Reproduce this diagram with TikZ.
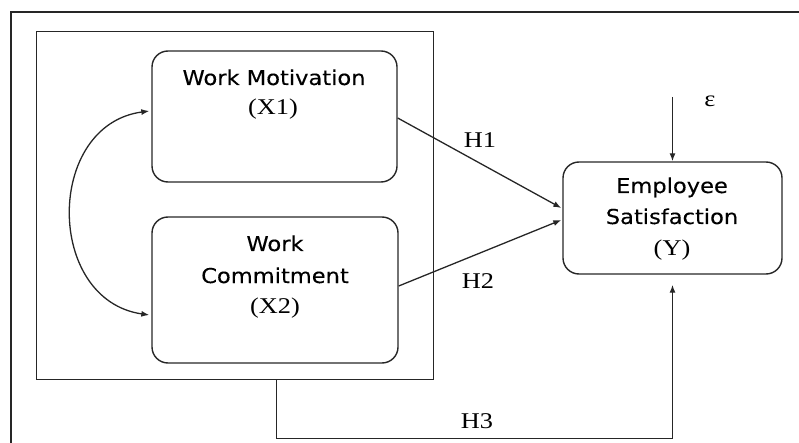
\documentclass[tikz,border=0pt]{standalone}
\usepackage{fontspec}
\usetikzlibrary{arrows.meta}
\newfontfamily\boxsans[FakeStretch=1.1,FakeBold=0.25]{DejaVu Sans}
\newfontfamily\boxserif[FakeStretch=1.17]{Liberation Serif}
\tikzset{
  line/.style={line width=1.3pt, draw=black!85},
  arr/.style={line, -{Latex[length=8pt,width=6pt]}},
  darr/.style={line, {Latex[length=8pt,width=6pt]}-{Latex[length=8pt,width=6pt]}},
  varbox/.style={draw=black!85, line width=1.4pt, rounded corners=16pt, inner sep=0pt},
  sanstxt/.style={anchor=base, inner sep=0pt, font=\boxsans\fontsize{20.5}{24}\selectfont, text=black},
  seriftxt/.style={anchor=base, inner sep=0pt, font=\boxserif\fontsize{22.5}{26}\selectfont, text=black},
}
\begin{document}
\begin{tikzpicture}[x=1pt,y=-1pt]
\useasboundingbox (0,0) rectangle (799,443);
% outer frame (top and left only visible)
\coordinate (fbl) at (11,443);
\coordinate (ftl) at (11,12);
\coordinate (ftr) at (799,12);
\draw[line] (fbl) -- (ftl) -- (ftr);
% group box
\node[draw=black!85, line width=1.3pt, minimum width=397pt, minimum height=348pt, anchor=north west, inner sep=0pt] (group) at (36,31) {};
% variable boxes
\node[varbox, minimum width=245pt, minimum height=131pt] (x1) at (274.5,116.5) {};
\node[varbox, minimum width=246pt, minimum height=146pt] (x2) at (275,290) {};
\node[varbox, minimum width=219pt, minimum height=112pt] (y) at (672.5,218) {};
% texts
\node[sanstxt] (t1a) at (274,85) {Work Motivation};
\node[seriftxt] (t1b) at (273,115) {(X1)};
\node[sanstxt] (t2a) at (275,251) {Work};
\node[sanstxt] (t2b) at (275,283) {Commitment};
\node[seriftxt] (t2c) at (275,313) {(X2)};
\node[sanstxt] (t3a) at (672,193) {Employee};
\node[sanstxt] (t3b) at (672,224) {Satisfaction};
\node[seriftxt] (t3c) at (672,256) {(Y)};
% labels
\node[seriftxt] (h1) at (480,148) {H1};
\node[seriftxt] (h2) at (478,288) {H2};
\node[seriftxt] (h3) at (477,428) {H3};
\node[seriftxt] (eps) at (710,107) {ε};
% connectors
\draw[arr] ([yshift=-1.5pt]x1.east) -- ([xshift=-1pt,yshift=10pt]y.west);
\draw[arr] ([yshift=4pt]x2.east) -- ([xshift=-1pt,yshift=-2pt]y.west);
\coordinate (epsstart) at (672.5,97);
\draw[arr] (epsstart) -- (y.north);
\draw[arr] ([xshift=41.5pt]group.south) -- ++(0,58) -| ([yshift=-10pt]y.south);
\draw[darr] ([xshift=-2pt,yshift=5.5pt]x1.west) .. controls (45,125) and (45,300) .. ([xshift=-2pt,yshift=-25pt]x2.west);
\end{tikzpicture}
\end{document}
